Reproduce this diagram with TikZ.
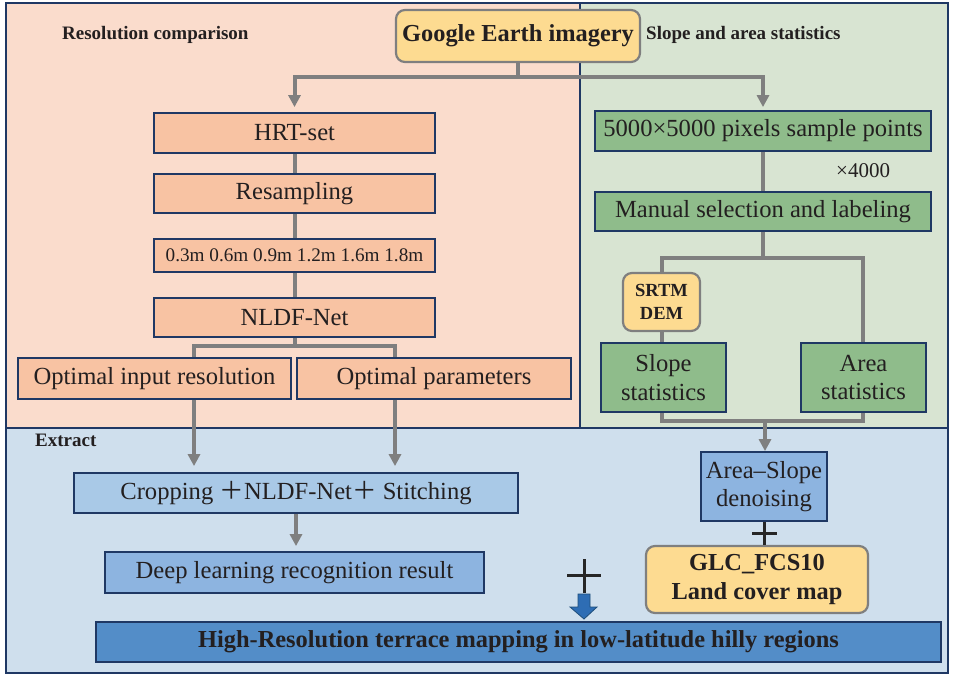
\documentclass[tikz,border=0pt]{standalone}
\usepackage{fontspec}
\setmainfont{Liberation Serif}
\newfontfamily\cjkfont{Noto Sans CJK SC}
\usetikzlibrary{arrows.meta,calc}
\definecolor{navy}{HTML}{1F3864}
\definecolor{ink}{HTML}{231F20}
\definecolor{ink2}{HTML}{262626}
\definecolor{gline}{HTML}{7F7F7F}
\definecolor{gborder}{HTML}{7F7F7F}
\definecolor{bgsal}{HTML}{FADCCC}
\definecolor{bggrn}{HTML}{D8E4D2}
\definecolor{bgblu}{HTML}{CFDFED}
\definecolor{salmon}{HTML}{F8C3A3}
\definecolor{grn}{HTML}{8FBC8B}
\definecolor{lblue}{HTML}{A9C9E7}
\definecolor{mblue}{HTML}{8DB4E0}
\definecolor{dblue}{HTML}{538DC8}
\definecolor{ylw}{HTML}{FDDB91}
\definecolor{barrow}{HTML}{2E6DB4}
\definecolor{barrowd}{HTML}{1F4E79}
\begin{document}
\begin{tikzpicture}[x=1pt,y=-1pt,
  bx/.style={draw=navy, line width=1.8pt, inner sep=0pt, align=center, text=ink, font=\fontsize{24.6}{28.5}\selectfont},
  rbx/.style={draw=gborder, line width=2.2pt, rounded corners=9pt, fill=ylw, inner sep=0pt, align=center, text=ink, font=\fontsize{24.4}{29}\selectfont\bfseries},
  salbox/.style={bx, fill=salmon},
  grbox/.style={bx, fill=grn},
  lbbox/.style={bx, fill=lblue},
  mbbox/.style={bx, fill=mblue},
  conn/.style={draw=gline, line width=4pt},
  conna/.style={conn, -{Triangle[length=12pt,width=12pt]}},
  plusline/.style={draw=ink2, line width=3pt},
  regn/.style={draw=navy, line width=2pt},
  lbl/.style={font=\fontsize{19}{22}\selectfont\bfseries, text=ink, anchor=base west, inner sep=0pt}
]
\useasboundingbox (0,0) rectangle (955,680);
% regions
\fill[white] (0,0) rectangle (955,680);
\draw[regn, fill=bgsal] (6,3) rectangle (580,428);
\draw[regn, fill=bggrn] (580,3) rectangle (948,428);
\draw[regn, fill=bgblu] (6,428) rectangle (948,673);

% region labels
\node[lbl] (tres) at (62,39) {Resolution comparison};
\node[lbl] (tslope) at (646,39) {Slope and area statistics};
\node[lbl] (text) at (35,446) {Extract};

% nodes
\node[rbx, minimum width=244pt, minimum height=52pt] (google) at (518,36) {Google Earth imagery};

\node[salbox, minimum width=281pt, minimum height=40pt] (hrt) at (294.5,133) {HRT-set};
\node[salbox, minimum width=281pt, minimum height=39pt] (resamp) at (294.5,193.5) {Resampling};
\node[salbox, minimum width=281pt, minimum height=33pt, font=\fontsize{19.2}{23}\selectfont] (res) at (294.5,255.5) {0.3m 0.6m 0.9m 1.2m 1.6m 1.8m};
\node[salbox, minimum width=281pt, minimum height=39pt] (nldf) at (294.5,317.5) {NLDF-Net};
\node[salbox, minimum width=273pt, minimum height=41pt] (optin) at (154.5,378.5) {Optimal input resolution};
\node[salbox, minimum width=274pt, minimum height=41pt] (optpar) at (434,378.5) {Optimal parameters};

\node[lbbox, minimum width=444pt, minimum height=40pt] (crop) at (296,493) {Cropping {\cjkfont ＋}NLDF-Net{\cjkfont ＋} Stitching};
\node[mbbox, minimum width=379pt, minimum height=41pt] (deep) at (294.5,572.5) {Deep learning recognition result};
\node[bx, fill=dblue, minimum width=845pt, minimum height=40pt, font=\fontsize{24.4}{28}\selectfont\bfseries] (high) at (518.5,642) {High-Resolution terrace mapping in low-latitude hilly regions};

\node[grbox, minimum width=336pt, minimum height=40pt] (samp) at (763,131) {5000×5000 pixels sample points};
\node[text=ink, font=\fontsize{21}{24}\selectfont, anchor=base west, inner sep=0pt] (times) at (836,177) {×4000};
\node[grbox, minimum width=336pt, minimum height=39pt] (manual) at (763,211.5) {Manual selection and labeling};
\node[rbx, minimum width=77pt, minimum height=58pt, font=\fontsize{18.5}{23}\selectfont\bfseries] (srtm) at (661.5,302) {SRTM\\DEM};
\node[grbox, minimum width=125pt, minimum height=69pt] (slope) at (663.5,377.5) {Slope\\statistics};
\node[grbox, minimum width=125pt, minimum height=69pt] (area) at (863.5,377.5) {Area\\statistics};
\node[mbbox, minimum width=126pt, minimum height=69pt] (asd) at (764,486.5) {Area–Slope\\denoising};
\node[rbx, minimum width=222pt, minimum height=67pt] (glc) at (757,579.5) {GLC\_FCS10\\Land cover map};

% connectors top
\coordinate (gj) at (518,77);
\draw[conn] (google.south) -- (gj);
\draw[conna, shorten >=5pt] (gj) -| (hrt.north);
\draw[conna, shorten >=3pt] (gj) -| (samp.north);

\draw[conn] (hrt.south) -- (resamp.north);
\draw[conn] (resamp.south) -- (res.north);
\draw[conn] (res.south) -- (nldf.north);

\coordinate (nb) at (294.5,346);
\coordinate (bl) at (194,346);
\coordinate (br) at (395,346);
\draw[conn] (nldf.south) -- (nb);
\draw[conn] (bl |- optin.north) -- (bl) -- (br) -- (br |- optpar.north);
\draw[conna, shorten >=6pt] (bl |- optin.south) -- (bl |- crop.north);
\draw[conna, shorten >=6pt] (br |- optpar.south) -- (br |- crop.north);
\draw[conna, shorten >=5pt] (crop.south) -- (crop.south |- deep.north);

% right side
\coordinate (mj) at (763,258);
\coordinate (lj) at (662,258);
\coordinate (rj) at (863,258);
\draw[conn] (samp.south) -- (manual.north);
\draw[conn] (manual.south) -- (mj);
\draw[conn] (lj |- srtm.north) -- (lj) -- (rj) -- (rj |- area.north);
\draw[conn] (lj |- srtm.south) -- (lj |- slope.north);
\coordinate (blj) at (662,421);
\coordinate (brj) at (863,421);
\coordinate (dm) at (765,421);
\draw[conn] (blj |- slope.south) -- (blj) -- (brj) -- (brj |- area.south);
\draw[conna] (dm) -- (dm |- asd.north);

% plus signs
\draw[plusline] (asd.south) -- (asd.south |- glc.north);
\draw[plusline] (752,533) -- (777,533);
\draw[plusline] (584,559) -- (584,593);
\draw[plusline] (567,575) -- (601,575);

% block arrow
\draw[fill=barrow, draw=barrowd, line width=0.8pt] (578,594) -- (590,594) -- (590,607) -- (597,607) -- (584,619) -- (570,607) -- (578,607) -- cycle;
\end{tikzpicture}
\end{document}
